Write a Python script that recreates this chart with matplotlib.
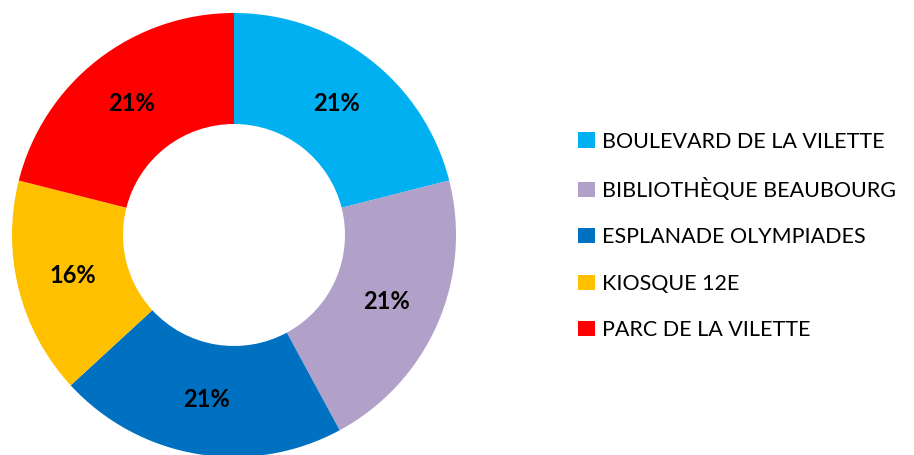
import matplotlib.pyplot as plt

# données du graphique
lieux = ["BOULEVARD DE LA VILETTE", "BIBLIOTHÈQUE BEAUBOURG", "ESPLANADE OLYMPIADES",
         "KIOSQUE 12E", "PARC DE LA VILETTE"]
valeurs = [4, 4, 4, 3, 4]
couleurs = ["#00b0f0", "#b1a0c7", "#0070c0", "#ffc000", "#ff0000"]

plt.rcParams['font.family'] = ['Lato', 'DejaVu Sans']

fig = plt.figure(figsize=(9.14, 4.55), dpi=100)
W, H = 914, 455
cx, cy, r = 234, 235, 222
ax = fig.add_axes([(cx - r) / W, (H - cy - r) / H, 2 * r / W, 2 * r / H])

wedges, textes, pcts = ax.pie(valeurs, colors=couleurs, startangle=90, counterclock=False,
                              radius=1, autopct='%1.0f%%', pctdistance=0.75,
                              wedgeprops=dict(width=0.5, edgecolor='none'),
                              textprops=dict(fontsize=17, fontweight='bold', color='black'))
ax.set_xlim(-1, 1)
ax.set_ylim(-1, 1)
ax.set_aspect('equal')

leg = fig.legend(wedges, lieux, loc='center left', bbox_to_anchor=(559 / W, (H - 236) / H),
                 frameon=False, fontsize=15.5, handlelength=0.75, handleheight=0.7,
                 handletextpad=0.37, labelspacing=1.23)

fig.savefig("out.png", dpi=100)
